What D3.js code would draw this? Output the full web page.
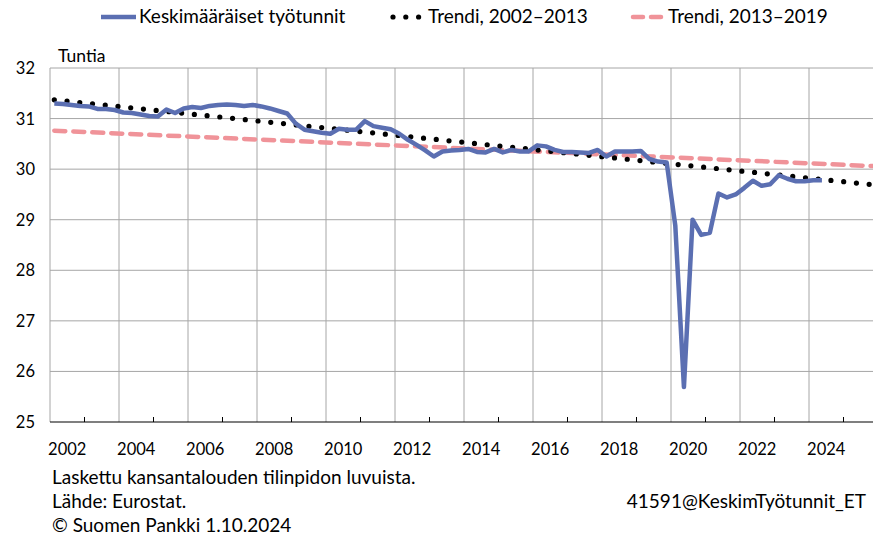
<!DOCTYPE html>
<html>
<head>
<meta charset="utf-8">
<script src="https://cdn.jsdelivr.net/npm/d3@7"></script>
<style>
  body { margin: 0; background: #fff; }
  svg text { font-family: Lato, "Liberation Sans", Arial, sans-serif; fill: #000; }
</style>
</head>
<body>
<div id="chart"></div>
<script>
// quarterly average hours, 2002Q1 .. 2024Q2
var startYear = 2002;
var hours = [
  31.30, 31.29, 31.27, 31.25, 31.24, 31.19, 31.19, 31.17, 31.12, 31.11, 31.08, 31.05, 31.04, 31.18, 31.11, 31.20, 31.23, 31.21,
  31.25, 31.27, 31.28, 31.27, 31.25, 31.27, 31.24, 31.20, 31.15, 31.10, 30.90, 30.78, 30.75, 30.72, 30.70, 30.80, 30.78, 30.78, 30.95,
  30.85, 30.82, 30.79, 30.70, 30.58, 30.48, 30.37, 30.25, 30.35, 30.37, 30.38, 30.40, 30.34, 30.33, 30.40, 30.33, 30.38, 30.35,
  30.35, 30.47, 30.45, 30.38, 30.34, 30.34, 30.33, 30.32, 30.38, 30.25, 30.35, 30.35, 30.35, 30.36, 30.20, 30.15, 30.13,
  28.88, 25.69, 29.00, 28.70, 28.74, 29.52, 29.44, 29.50, 29.63, 29.77, 29.67, 29.70, 29.88, 29.81, 29.76, 29.76, 29.78, 29.78
];
// straight trend lines, first and last quarter (2002Q1, 2025Q4)
var trendQuarters = [0, 95];
var trend0213 = [31.37, 29.69];
var trend1319 = [30.76, 30.06];

var yTicks = [25, 26, 27, 28, 29, 30, 31, 32];
var xLabels = ['2002','2004','2006','2008','2010','2012','2014','2016','2018','2020','2022','2024'];
var legendNames = ['Keskimääräiset työtunnit', 'Trendi, 2002–2013', 'Trendi, 2013–2019'];

var W = 873, H = 540;
var m = {t:68, r:-5, b:118, l:50};

var svg = d3.select('#chart').append('svg')
    .attr('width', W).attr('height', H);

var x = d3.scaleLinear().domain([2002, 2026]).range([m.l, W - m.r]);
var y = d3.scaleLinear().domain([25, 32]).range([H - m.b, m.t]);

function qx(i){ return x(startYear + i / 4 + 0.125); }

var grid = svg.append('g');
// horizontal gridlines
grid.selectAll('.hg').data(yTicks.slice(1)).enter().append('line')
    .attr('x1', m.l).attr('x2', W)
    .attr('y1', function(d){ return y(d); }).attr('y2', function(d){ return y(d); })
    .attr('stroke', '#a6a6a6').attr('stroke-width', 1);
// vertical gridlines every 2 years
grid.selectAll('.vg').data(d3.range(2002, 2026, 2)).enter().append('line')
    .attr('x1', function(d){ return x(d); }).attr('x2', function(d){ return x(d); })
    .attr('y1', y(32)).attr('y2', y(25))
    .attr('stroke', '#a6a6a6').attr('stroke-width', 1);
// minor ticks on bottom axis
grid.selectAll('.mt').data(d3.range(2003, 2026, 2)).enter().append('line')
    .attr('x1', function(d){ return x(d); }).attr('x2', function(d){ return x(d); })
    .attr('y1', y(25) - 5).attr('y2', y(25))
    .attr('stroke', '#000').attr('stroke-width', 1);
grid.append('line')
    .attr('x1', m.l).attr('x2', W).attr('y1', y(25)).attr('y2', y(25))
    .attr('stroke', '#000').attr('stroke-width', 1.2);

// y labels
svg.selectAll('.yl').data(yTicks).enter().append('text')
    .attr('x', 35).attr('y', function(d){ return y(d) + 6; })
    .attr('text-anchor', 'end').style('font-size', '16.5px')
    .text(function(d){ return d; });
svg.append('text').attr('x', 58).attr('y', 62).style('font-size', '17.5px').text('Tuntia');

// x labels, centred in the year
svg.selectAll('.xl').data(xLabels).enter().append('text')
    .attr('x', function(d){ return x(+d + 0.5); }).attr('y', 455)
    .attr('text-anchor', 'middle').style('font-size', '16.5px')
    .text(String);

var line = d3.line()
    .x(function(d){ return qx(d[0]); })
    .y(function(d){ return y(d[1]); });

svg.append('clipPath').attr('id', 'plotclip')
    .append('rect').attr('x', m.l).attr('y', 0).attr('width', W - m.l).attr('height', H);

var plot = svg.append('g').attr('clip-path', 'url(#plotclip)');

plot.append('path')
    .attr('d', line(trendQuarters.map(function(q, i){ return [q, trend1319[i]]; })))
    .attr('fill', 'none').attr('stroke', '#f09399').attr('stroke-width', 4.5)
    .attr('stroke-dasharray', '11 8').attr('stroke-linecap', 'round');

plot.append('path')
    .attr('d', line(trendQuarters.map(function(q, i){ return [q, trend0213[i]]; })))
    .attr('fill', 'none').attr('stroke', '#000').attr('stroke-width', 5.2)
    .attr('stroke-dasharray', '0 12.8').attr('stroke-linecap', 'round');

plot.append('path')
    .attr('d', line(hours.map(function(v, i){ return [i, v]; })))
    .attr('fill', 'none').attr('stroke', '#5b6fb2').attr('stroke-width', 4.5)
    .attr('stroke-linejoin', 'round');

// legend
var lg = svg.append('g');
lg.append('line').attr('x1', 101).attr('x2', 136).attr('y1', 17).attr('y2', 17)
    .attr('stroke', '#5b6fb2').attr('stroke-width', 4.5);
lg.append('text').attr('x', 139).attr('y', 23).style('font-size', '19px').text(legendNames[0]);
lg.append('line').attr('x1', 393).attr('x2', 421).attr('y1', 17).attr('y2', 17)
    .attr('stroke', '#000').attr('stroke-width', 5.2)
    .attr('stroke-dasharray', '0 12.8').attr('stroke-linecap', 'round');
lg.append('text').attr('x', 428).attr('y', 23).style('font-size', '19px').text(legendNames[1]);
lg.append('line').attr('x1', 633).attr('x2', 661).attr('y1', 17).attr('y2', 17)
    .attr('stroke', '#f09399').attr('stroke-width', 4.5)
    .attr('stroke-dasharray', '10 8').attr('stroke-linecap', 'round');
lg.append('text').attr('x', 668).attr('y', 23).style('font-size', '19px').text(legendNames[2]);

// footer
svg.append('text').attr('x', 52).attr('y', 484).style('font-size', '19px').text('Laskettu kansantalouden tilinpidon luvuista.');
svg.append('text').attr('x', 52).attr('y', 508).style('font-size', '19px').text('Lähde: Eurostat.');
svg.append('text').attr('x', 52).attr('y', 532).style('font-size', '19px').text('© Suomen Pankki 1.10.2024');
svg.append('text').attr('x', 866).attr('y', 508).attr('text-anchor', 'end').style('font-size', '19px').text('41591@KeskimTyötunnit_ET');
</script>
</body>
</html>
